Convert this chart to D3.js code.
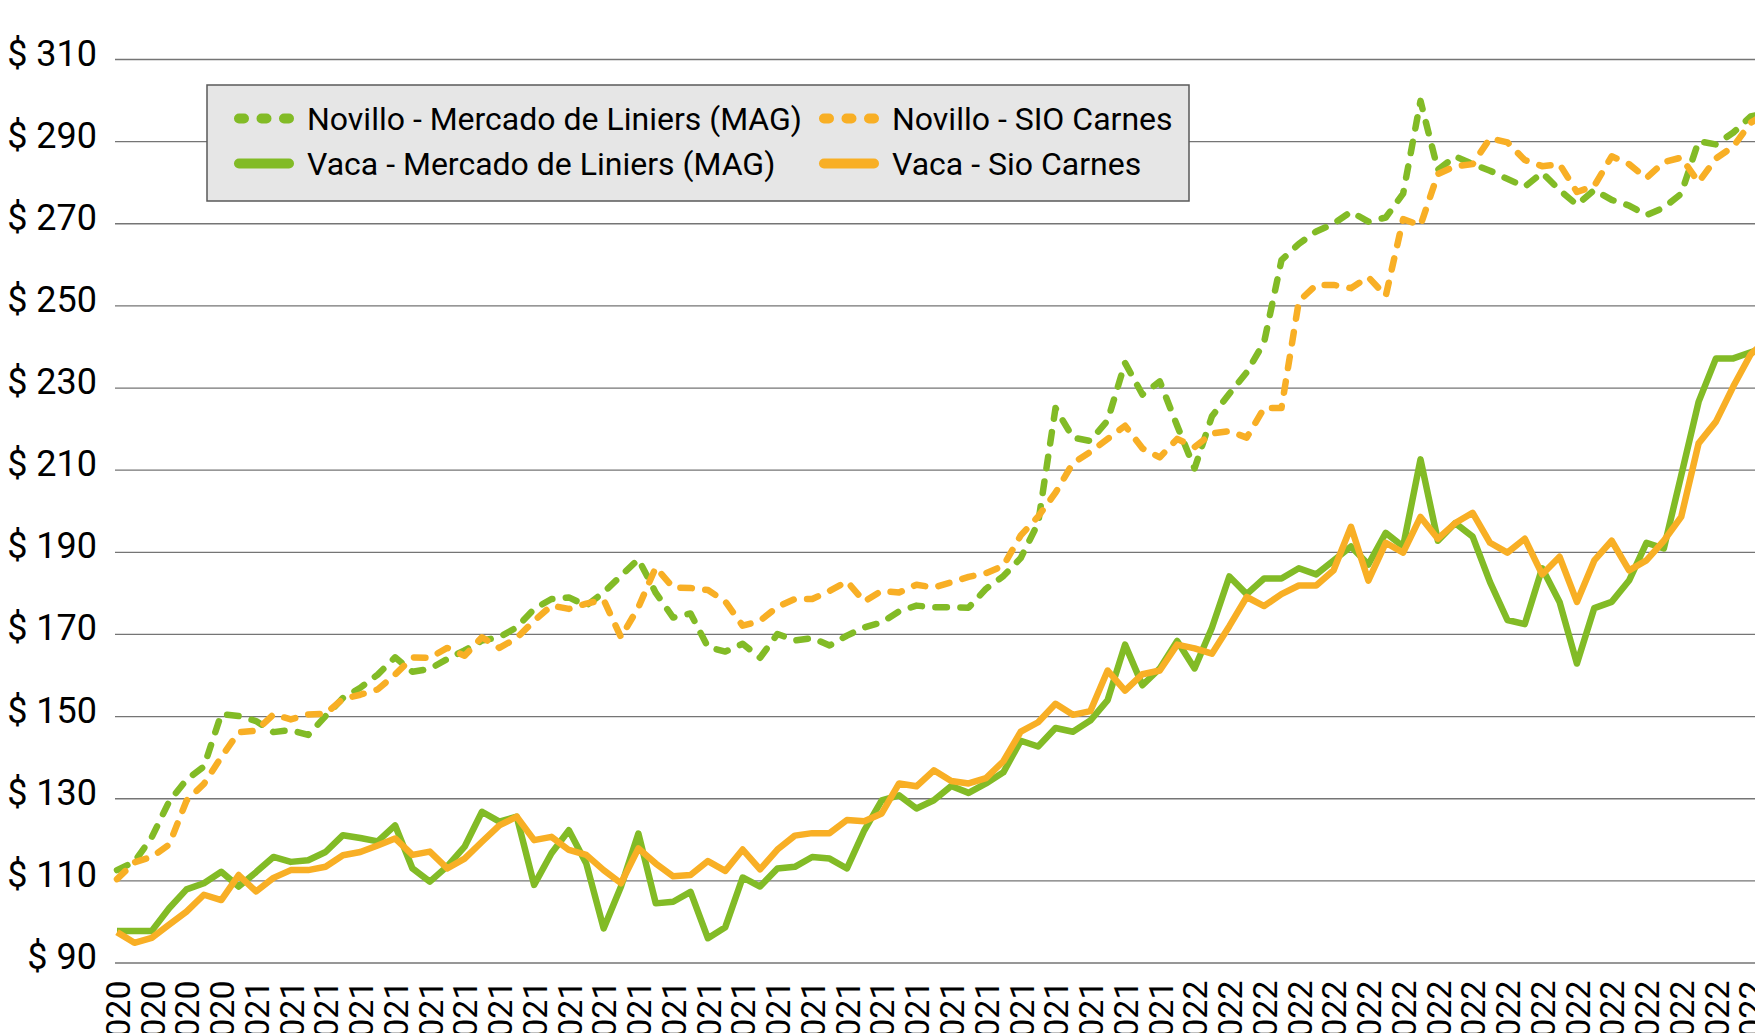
<!DOCTYPE html>
<html><head><meta charset="utf-8">
<script src="https://cdn.jsdelivr.net/npm/d3@7"></script>
<style>html,body{margin:0;padding:0;background:#fff;overflow:hidden}svg{display:block}</style>
</head><body><div id="chart"></div>
<script>
const weekLabels = [
"06/11/2020","13/11/2020","20/11/2020","27/11/2020","04/12/2020","11/12/2020","18/12/2020","25/12/2020",
"01/01/2021","08/01/2021","15/01/2021","22/01/2021","29/01/2021","05/02/2021","12/02/2021","19/02/2021","26/02/2021",
"05/03/2021","12/03/2021","19/03/2021","26/03/2021","02/04/2021","09/04/2021","16/04/2021","23/04/2021","30/04/2021",
"07/05/2021","14/05/2021","21/05/2021","28/05/2021","04/06/2021","11/06/2021","18/06/2021","25/06/2021",
"02/07/2021","09/07/2021","16/07/2021","23/07/2021","30/07/2021","06/08/2021","13/08/2021","20/08/2021","27/08/2021",
"03/09/2021","10/09/2021","17/09/2021","24/09/2021","01/10/2021","08/10/2021","15/10/2021","22/10/2021","29/10/2021",
"05/11/2021","12/11/2021","19/11/2021","26/11/2021","03/12/2021","10/12/2021","17/12/2021","24/12/2021","31/12/2021",
"07/01/2022","14/01/2022","21/01/2022","28/01/2022","04/02/2022","11/02/2022","18/02/2022","25/02/2022",
"04/03/2022","11/03/2022","18/03/2022","25/03/2022","01/04/2022","08/04/2022","15/04/2022","22/04/2022","29/04/2022",
"06/05/2022","13/05/2022","20/05/2022","27/05/2022","03/06/2022","10/06/2022","17/06/2022","24/06/2022",
"01/07/2022","08/07/2022","15/07/2022","22/07/2022","29/07/2022","05/08/2022","12/08/2022","19/08/2022","26/08/2022","02/09/2022"
];

const novilloMag = [112.5,114.5,120.5,129.2,134.5,137.7,150.5,150,148.8,146.1,146.6,145.4,150,154.4,156.9,160.1,
164.3,160.8,161.5,163.9,166,168.4,169.2,171.6,176.1,178.5,178.9,176.9,180.1,184.2,188.2,180,
174,175,166.8,165.7,167.6,164.2,170,168.4,169,167.2,169.6,171.6,172.8,175.5,176.9,176.5,
176.5,176.4,181,184.1,188.5,197,225,217.8,217,222,236,228.3,231.5,220.7,210.3,223,
228.5,233.7,241,261,265,268,269.9,272.8,270.4,271.4,277.2,299.8,283,286.3,284.4,282.8,
280.8,278.9,282.3,278.1,274.5,278.1,275.7,274.3,272,273.8,277.2,290,289.2,292.1,296,297];

const novilloSio = [110.3,114.4,115.7,118.7,129.4,133.5,140,146.1,146.4,150.4,149.2,150.4,150.6,154.2,155.2,156.5,
160.1,164.3,164.2,166.6,164.7,169.2,166.6,169,173.2,176.9,176.1,177.4,178.3,169.2,176.5,186.2,
181.3,181.2,180.7,177.9,172,173.2,176.6,178.5,178.5,180.5,182.8,177.9,180.5,180.1,182,181.3,
182.6,183.9,184.8,186.6,194,198.6,204.4,211.6,214.3,217.5,220.7,215.2,213,217.5,215.5,218.8,
219.4,217.8,225,225,251,255,255,254.2,256.9,252.3,271,269.5,282,283.9,284.4,290.7,
289.7,285.4,283.9,284.4,277.6,279.1,286.3,284.4,281,284.9,286,280,285.8,288.7,294.5,297];

const vacaMag = [97.7,97.7,97.7,103.2,107.8,109.3,112.1,108.5,112,115.7,114.5,114.9,116.9,121,120.3,119.5,
123.4,112.9,109.7,113.4,118.2,126.7,124.3,125.5,108.9,116.6,122.2,114.1,98.3,108.5,121.4,104.4,
104.8,107.2,95.9,98.6,110.7,108.5,112.9,113.3,115.7,115.3,112.9,122.2,129.5,130.7,127.5,129.5,
133,131.3,133.6,136.3,144,142.6,147.1,146.2,148.9,153.9,167.4,157.5,161.6,168.3,161.6,171.5,
184,179.7,183.5,183.5,186,184.5,187.9,191.3,186.9,194.6,191.3,212.5,192.7,197,193.7,182.6,
173.4,172.4,186,177.8,162.8,176.3,177.8,183,192.2,190.8,208.6,226.5,237.1,237.1,238.6,240];

const vacaSio = [97.4,94.8,96,99.2,102.4,106.5,105.2,111.3,107.3,110.6,112.5,112.5,113.3,116.1,116.9,118.5,
120.2,116.2,117,112.9,115.3,119.4,123.4,125.5,119.8,120.6,117.4,116.2,112.5,109.3,117.8,114.1,
111,111.3,114.7,112.3,117.5,112.7,117.5,120.9,121.5,121.5,124.7,124.4,126.3,133.6,132.9,136.8,
134.2,133.6,134.9,139,146.2,148.5,153,150.3,151.2,161.1,156.2,160.2,161.1,167.4,166.5,165.2,
171.9,179,176.8,179.7,181.8,181.8,185.5,196.1,183,192.2,189.8,198.5,193.2,197,199.5,192.2,
189.8,193.2,184.5,188.8,177.8,187.9,192.7,185.5,187.9,192.7,198.5,216.4,221.7,230.3,238.1,242];

const yTicks = [90,110,130,150,170,190,210,230,250,270,290,310];
const seriesNames = ["Novillo - Mercado de Liniers (MAG)","Novillo - SIO Carnes","Vaca - Mercado de Liniers (MAG)","Vaca - Sio Carnes"];

const W = 1755, H = 1033;
const GREEN = "#82bb26", ORANGE = "#f8af25";
const FONT = "Roboto, 'Liberation Sans', sans-serif";

const svg = d3.select("#chart").append("svg").attr("width", W).attr("height", H)
  .style("font-family", FONT);

const x = d3.scalePoint().domain(weekLabels).range([117, 117 + 17.38 * (weekLabels.length - 1)]);
const y = d3.scaleLinear().domain([90, 310]).range([962.5, 59]);

// gridlines + y labels
const yAxis = d3.axisLeft(y).tickValues(yTicks).tickSize(-(W - 115)).tickFormat(d => "$ " + d).tickPadding(18);
const gy = svg.append("g").attr("transform", "translate(115,0)").call(yAxis);
gy.select(".domain").remove();
gy.selectAll(".tick line").attr("stroke", "#757575").attr("stroke-width", 1.3);
gy.selectAll(".tick text").attr("font-size", 36).attr("fill", "#000")
  .attr("font-family", FONT).attr("x", -18).attr("dy", null).attr("dominant-baseline", "central")
  .attr("transform", "translate(0,-6)");

// x axis labels (every second category), cut by the bottom edge as in the reference
const xAxis = d3.axisBottom(x).tickValues(weekLabels.filter((d, i) => i % 2 === 0)).tickSize(0).tickPadding(0);
const gx = svg.append("g").attr("transform", `translate(0,${y(90)})`).call(xAxis);
gx.select(".domain").remove();
gx.selectAll(".tick text").attr("font-size", 34).attr("fill", "#000").attr("font-family", FONT)
  .attr("text-anchor", "end").attr("transform", "translate(0,18) rotate(-90)")
  .attr("x", 0).attr("y", 0).attr("dy", "0.36em");

const line = d3.line().x((d, i) => x(weekLabels[i])).y(d => y(d));

const series = [
  {name: seriesNames[0], data: novilloMag, color: GREEN, dash: true},
  {name: seriesNames[1], data: novilloSio, color: ORANGE, dash: true},
  {name: seriesNames[2], data: vacaMag, color: GREEN, dash: false},
  {name: seriesNames[3], data: vacaSio, color: ORANGE, dash: false}
];
series.forEach(s => {
  svg.append("path").datum(s.data).attr("d", line)
    .attr("fill", "none").attr("stroke", s.color).attr("stroke-width", 6.5)
    .attr("stroke-linejoin", "round").attr("stroke-linecap", s.dash ? "round" : "butt")
    .attr("stroke-dasharray", s.dash ? "11.5,13.5" : null);
});

// legend
const lg = svg.append("g");
lg.append("rect").attr("x", 207).attr("y", 85).attr("width", 982).attr("height", 116)
  .attr("fill", "#e6e6e6").attr("stroke", "#595959").attr("stroke-width", 1.5);
const legendPos = [
  {s: series[0], x: 239, tx: 307, y: 118.5},
  {s: series[1], x: 824, tx: 892, y: 118.5},
  {s: series[2], x: 239, tx: 307, y: 163.5},
  {s: series[3], x: 824, tx: 892, y: 163.5}
];
legendPos.forEach(p => {
  lg.append("line").attr("x1", p.x).attr("x2", p.x + 50).attr("y1", p.y).attr("y2", p.y)
    .attr("stroke", p.s.color).attr("stroke-width", 10).attr("stroke-linecap", "round")
    .attr("stroke-dasharray", p.s.dash ? "5,17.5" : null);
  lg.append("text").attr("x", p.tx).attr("y", p.y).attr("dominant-baseline", "central")
    .attr("font-size", 32).attr("fill", "#000").text(p.s.name);
});
</script></body></html>
